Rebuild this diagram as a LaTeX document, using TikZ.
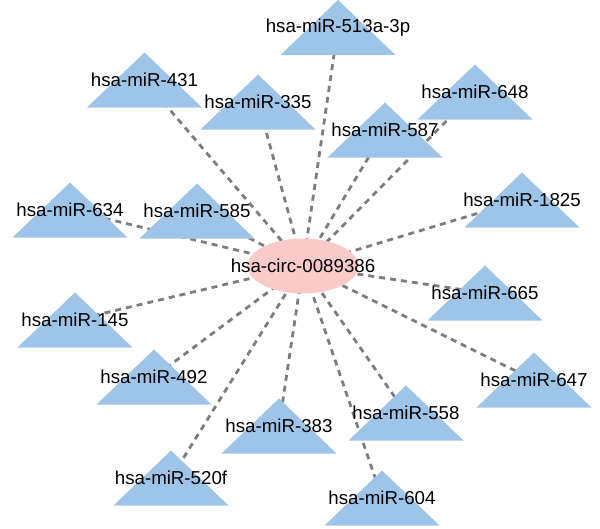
\documentclass[tikz,border=0pt]{standalone}
\usepackage{fontspec}
\setmainfont{Liberation Sans}
\usetikzlibrary{shapes.geometric}
\pgfdeclarelayer{bg}
\pgfsetlayers{bg,main}
\definecolor{triblue}{RGB}{158,196,231}
\definecolor{circpink}{RGB}{248,202,202}
\definecolor{edgegray}{RGB}{125,125,125}
\newcommand{\nlab}[1]{\makebox[0pt][c]{#1}}
\tikzset{
  mir/.style={rectangle, minimum width=115pt, minimum height=55pt, inner sep=0pt,
    font=\fontsize{18.7}{20}\selectfont,
    path picture={\fill[triblue] (path picture bounding box.south west) --
      (path picture bounding box.south east) -- (path picture bounding box.north) -- cycle;}},
  circ/.style={ellipse, fill=circpink, minimum width=111pt, minimum height=55pt, inner sep=0pt,
    font=\fontsize{18.7}{20}\selectfont},
  edge/.style={draw=edgegray, line width=2.8pt, dash pattern=on 6pt off 5pt}
}
\begin{document}
\begin{tikzpicture}[x=1pt,y=-1pt]
\useasboundingbox (0,0) rectangle (600,528);
\node[circ] (c) at (303,266) {\nlab{hsa-circ-0089386}};
\node[mir] (m513) at (338,27.5) {\nlab{hsa-miR-513a-3p}};
\node[mir] (m431) at (144.5,80) {\nlab{hsa-miR-431}};
\node[mir] (m335) at (258,102) {\nlab{hsa-miR-335}};
\node[mir] (m648) at (475,92) {\nlab{hsa-miR-648}};
\node[mir] (m587) at (385,130) {\nlab{hsa-miR-587}};
\node[mir] (m634) at (70,210) {\nlab{hsa-miR-634}};
\node[mir] (m585) at (197,211) {\nlab{hsa-miR-585}};
\node[mir] (m1825) at (522,200) {\nlab{hsa-miR-1825}};
\node[mir] (m145) at (75,320) {\nlab{hsa-miR-145}};
\node[mir] (m665) at (485,293) {\nlab{hsa-miR-665}};
\node[mir] (m492) at (154,377) {\nlab{hsa-miR-492}};
\node[mir] (m647) at (534,380) {\nlab{hsa-miR-647}};
\node[mir] (m383) at (279,426) {\nlab{hsa-miR-383}};
\node[mir] (m558) at (406,413) {\nlab{hsa-miR-558}};
\node[mir] (m520) at (171,478) {\nlab{hsa-miR-520f}};
\node[mir] (m604) at (382,498) {\nlab{hsa-miR-604}};
\begin{pgfonlayer}{bg}
\foreach \t in {m513,m431,m335,m648,m587,m634,m585,m1825,m145,m665,m492,m647,m383,m558,m520,m604}
  \draw[edge] (c.center) -- (\t.center);
\end{pgfonlayer}
\end{tikzpicture}
\end{document}
